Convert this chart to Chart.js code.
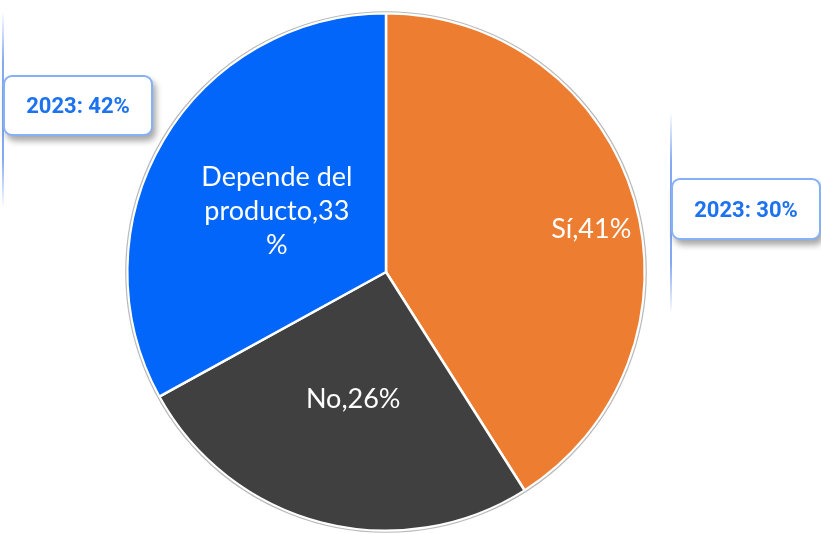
<!DOCTYPE html>
<html>
<head>
<meta charset="utf-8">
<script src="https://cdn.jsdelivr.net/npm/chart.js@4/dist/chart.umd.min.js"></script>
<style>
  html, body { margin: 0; padding: 0; background: #fff; }
  #wrap { position: relative; width: 821px; height: 534px; overflow: hidden; }
  #c { position: absolute; left: 0; top: 0; }
  .vline { position: absolute; width: 1.5px;
    background: linear-gradient(to bottom, rgba(120,160,240,0), rgba(120,160,240,0.9) 25%, rgba(120,160,240,0.9) 75%, rgba(120,160,240,0)); }
  .callout { position: absolute; box-sizing: border-box; background: #fff;
    border: 2px solid #85b1f6; border-radius: 9px;
    box-shadow: 3px 5px 6px rgba(0,0,0,0.35);
    color: #1c72ef; font-family: Roboto, "Noto Sans", sans-serif; font-weight: 700; font-size: 22px;
    display: flex; align-items: center; justify-content: center; }
</style>
</head>
<body>
<div id="wrap">
  <canvas id="c" width="821" height="534"></canvas>
  <div class="vline" style="left:2px; top:12px; height:196px;"></div>
  <div class="vline" style="left:670px; top:112px; height:202px;"></div>
  <div class="callout" id="co1" style="left:3px; top:75px; width:150px; height:61px;"></div>
  <div class="callout" id="co2" style="left:671px; top:178px; width:150px; height:62px;"></div>
</div>
<script>
const categories = ["Sí", "No", "Depende del producto"];
const values2024 = [41, 26, 33];
const labelLines = [["Sí,41%"], ["No,26%"], ["Depende del", "producto,33", "%"]];
const callouts2023 = ["2023: 42%", "2023: 30%"];
const sliceColors = ["#ED7D31", "#404040", "#0366FA"];
const labelRadius = [0.81, 0.51, 0.49];
const labelNudge = [[4, 16], [0, -1], [0, 4]];

document.getElementById('co1').textContent = callouts2023[0];
document.getElementById('co2').textContent = callouts2023[1];

const sliceLabels = {
  id: 'sliceLabels',
  afterDatasetsDraw(chart) {
    const ctx = chart.ctx;
    const meta = chart.getDatasetMeta(0);
    const a0 = meta.data[0];
    ctx.save();
    ctx.beginPath();
    ctx.arc(a0.x, a0.y, a0.outerRadius + 1.5, 0, Math.PI * 2);
    ctx.strokeStyle = '#b9b9b9';
    ctx.lineWidth = 1.2;
    ctx.stroke();
    ctx.fillStyle = '#ffffff';
    ctx.font = '27px Lato, "Open Sans", sans-serif';
    ctx.textAlign = 'center';
    ctx.textBaseline = 'middle';
    meta.data.forEach((arc, i) => {
      const mid = (arc.startAngle + arc.endAngle) / 2;
      const r = arc.outerRadius * labelRadius[i];
      const cx = arc.x + Math.cos(mid) * r + labelNudge[i][0];
      const cy = arc.y + Math.sin(mid) * r + labelNudge[i][1];
      const lines = labelLines[i];
      const lh = 34;
      lines.forEach((t, k) => {
        ctx.fillText(t, cx, cy + (k - (lines.length - 1) / 2) * lh);
      });
    });
    ctx.restore();
  }
};

new Chart(document.getElementById('c'), {
  type: 'pie',
  data: {
    labels: categories,
    datasets: [{
      data: values2024,
      backgroundColor: sliceColors,
      borderColor: '#ffffff',
      borderWidth: 2.5,
      hoverOffset: 0,
      offset: 0
    }]
  },
  options: {
    responsive: false,
    animation: false,
    events: [],
    layout: { padding: { left: 126, right: 175, top: 12, bottom: 2 } },
    plugins: { legend: { display: false }, tooltip: { enabled: false } }
  },
  plugins: [sliceLabels]
});
</script>
</body>
</html>
